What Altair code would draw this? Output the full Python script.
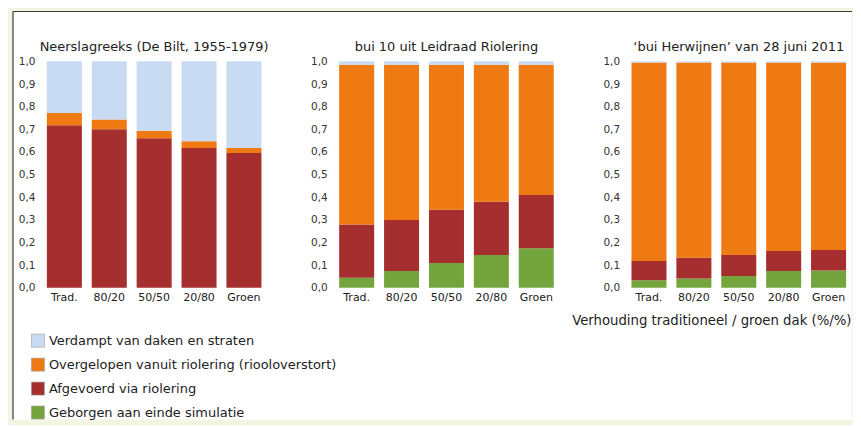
import altair as alt
import pandas as pd

categories = ["Trad.", "80/20", "50/50", "20/80", "Groen"]
series = [
    "Geborgen aan einde simulatie",
    "Afgevoerd via riolering",
    "Overgelopen vanuit riolering (riooloverstort)",
    "Verdampt van daken en straten",
]
bar_colors = ["#74A53C", "#A52E2F", "#EF7912", "#C9DBF2"]

# panel 1: Neerslagreeks (De Bilt, 1955-1979)
p1_geborgen = [0.0, 0.0, 0.0, 0.0, 0.0]
p1_afgevoerd = [0.718, 0.700, 0.660, 0.618, 0.595]
p1_overgelopen = [0.054, 0.043, 0.034, 0.029, 0.023]
p1_verdampt = [0.228, 0.257, 0.306, 0.353, 0.382]

# panel 2: bui 10 uit Leidraad Riolering
p2_geborgen = [0.045, 0.074, 0.110, 0.145, 0.175]
p2_afgevoerd = [0.235, 0.226, 0.235, 0.235, 0.235]
p2_overgelopen = [0.705, 0.685, 0.640, 0.605, 0.575]
p2_verdampt = [0.015, 0.015, 0.015, 0.015, 0.015]

# panel 3: 'bui Herwijnen' van 28 juni 2011
p3_geborgen = [0.033, 0.041, 0.052, 0.074, 0.077]
p3_afgevoerd = [0.086, 0.092, 0.093, 0.089, 0.090]
p3_overgelopen = [0.876, 0.862, 0.850, 0.832, 0.828]
p3_verdampt = [0.005, 0.005, 0.005, 0.005, 0.005]

titles = [
    "Neerslagreeks (De Bilt, 1955-1979)",
    "bui 10 uit Leidraad Riolering",
    "\u2018bui Herwijnen\u2019 van 28 juni 2011",
]
x_title = "Verhouding traditioneel / groen dak (%/%)"

legend_labels = [
    "Verdampt van daken en straten",
    "Overgelopen vanuit riolering (riooloverstort)",
    "Afgevoerd via riolering",
    "Geborgen aan einde simulatie",
]
legend_colors = ["#D6E2F2", "#F5A00E", "#A4461B", "#74A040"]

FONT = "DejaVu Sans"
W, H = 225, 227


def make_df(g, a, o, v):
    rows = []
    for i, c in enumerate(categories):
        for k, (s, vals) in enumerate(zip(series, [g, a, o, v])):
            rows.append({"cat": c, "series": s, "k": k, "value": vals[i]})
    return pd.DataFrame(rows)


def panel(df, title, first=False, xtitle=None):
    z = 1 if first else 0
    y_axis = alt.Axis(
        values=[i / 10 for i in range(11)],
        labelExpr="replace(format(datum.value, '.1f'), '.', ',')",
        domain=False, ticks=False, grid=False, labelPadding=7,
        labelFontSize=10.5, labelColor="#333", labelFont=FONT, zindex=z,
        labelFlush=False,
    )
    x_kwargs = dict(labelAngle=0, domain=False, ticks=False, labelPadding=4,
                    labelFontSize=11, labelColor="#222", labelFont=FONT, zindex=z)
    if xtitle:
        x_axis = alt.Axis(title=xtitle, titleFontSize=13.3, titleFontWeight="normal",
                          titleColor="#222", titleFont=FONT, titleAnchor="end",
                          titlePadding=11, **x_kwargs)
    else:
        x_axis = alt.Axis(title=None, **x_kwargs)
    bars = alt.Chart(df).mark_bar().encode(
        x=alt.X("cat:N", sort=categories, axis=x_axis,
                scale=alt.Scale(paddingInner=0.22, paddingOuter=0.11)),
        y=alt.Y("value:Q", stack="zero", axis=y_axis, title=None,
                scale=alt.Scale(domain=[0, 1], nice=False, zero=True)),
        color=alt.Color("series:N", scale=alt.Scale(domain=series, range=bar_colors),
                        legend=None),
        order=alt.Order("k:Q", sort="ascending"),
    )
    ttl = alt.Chart(pd.DataFrame({"t": [title]})).mark_text(
        fontSize=13, font=FONT, color="#222", align="center", baseline="alphabetic"
    ).encode(x=alt.value(W / 2), y=alt.value(-10), text="t:N")
    layers = []
    if first:
        one = pd.DataFrame({"a": [0]})
        box = alt.Chart(one).mark_rect(fill="white").encode(
            x=alt.value(-29), x2=alt.value(812), y=alt.value(-50), y2=alt.value(359))
        left_edge = alt.Chart(one).mark_rule(color="#3a3a3a", strokeWidth=1.2).encode(
            x=alt.value(-29), y=alt.value(-50), y2=alt.value(359))
        top_edge = alt.Chart(one).mark_rule(color="#3a3a3a", strokeWidth=1.2).encode(
            y=alt.value(-50), x=alt.value(-29), x2=alt.value(812))
        layers += [box, left_edge, top_edge]
    layers += [bars, ttl]
    return alt.layer(*layers).properties(width=W, height=H)


c1 = panel(make_df(p1_geborgen, p1_afgevoerd, p1_overgelopen, p1_verdampt), titles[0], first=True)
c2 = panel(make_df(p2_geborgen, p2_afgevoerd, p2_overgelopen, p2_verdampt), titles[1])
c3 = panel(make_df(p3_geborgen, p3_afgevoerd, p3_overgelopen, p3_verdampt), titles[2], xtitle=x_title)

leg_df = pd.DataFrame({"label": legend_labels})
leg_y = alt.Y("label:N", sort=legend_labels, axis=None,
              scale=alt.Scale(paddingInner=0, paddingOuter=0))
leg_sq = alt.Chart(leg_df).mark_square(size=170, opacity=1, stroke="#9a9a9a",
                                       strokeWidth=0.6).encode(
    x=alt.value(-4), y=leg_y,
    color=alt.Color("label:N", scale=alt.Scale(domain=legend_labels, range=legend_colors),
                    legend=None),
)
leg_tx = alt.Chart(leg_df).mark_text(align="left", baseline="middle", fontSize=13,
                                     font=FONT, color="#222").encode(
    x=alt.value(7), y=leg_y, text="label:N",
)
legend = alt.layer(leg_sq, leg_tx).properties(width=200, height=96)

chart = alt.concat(c1, c2, c3, legend, columns=3,
                   spacing={"row": 41, "column": 68}, bounds="flush").properties(
    background="#F2F5E2",
    padding={"left": 4, "top": 2, "right": 0, "bottom": 0},
).configure_view(stroke=None)

chart.save("out.html", embed_options={"renderer": "svg", "actions": False})
